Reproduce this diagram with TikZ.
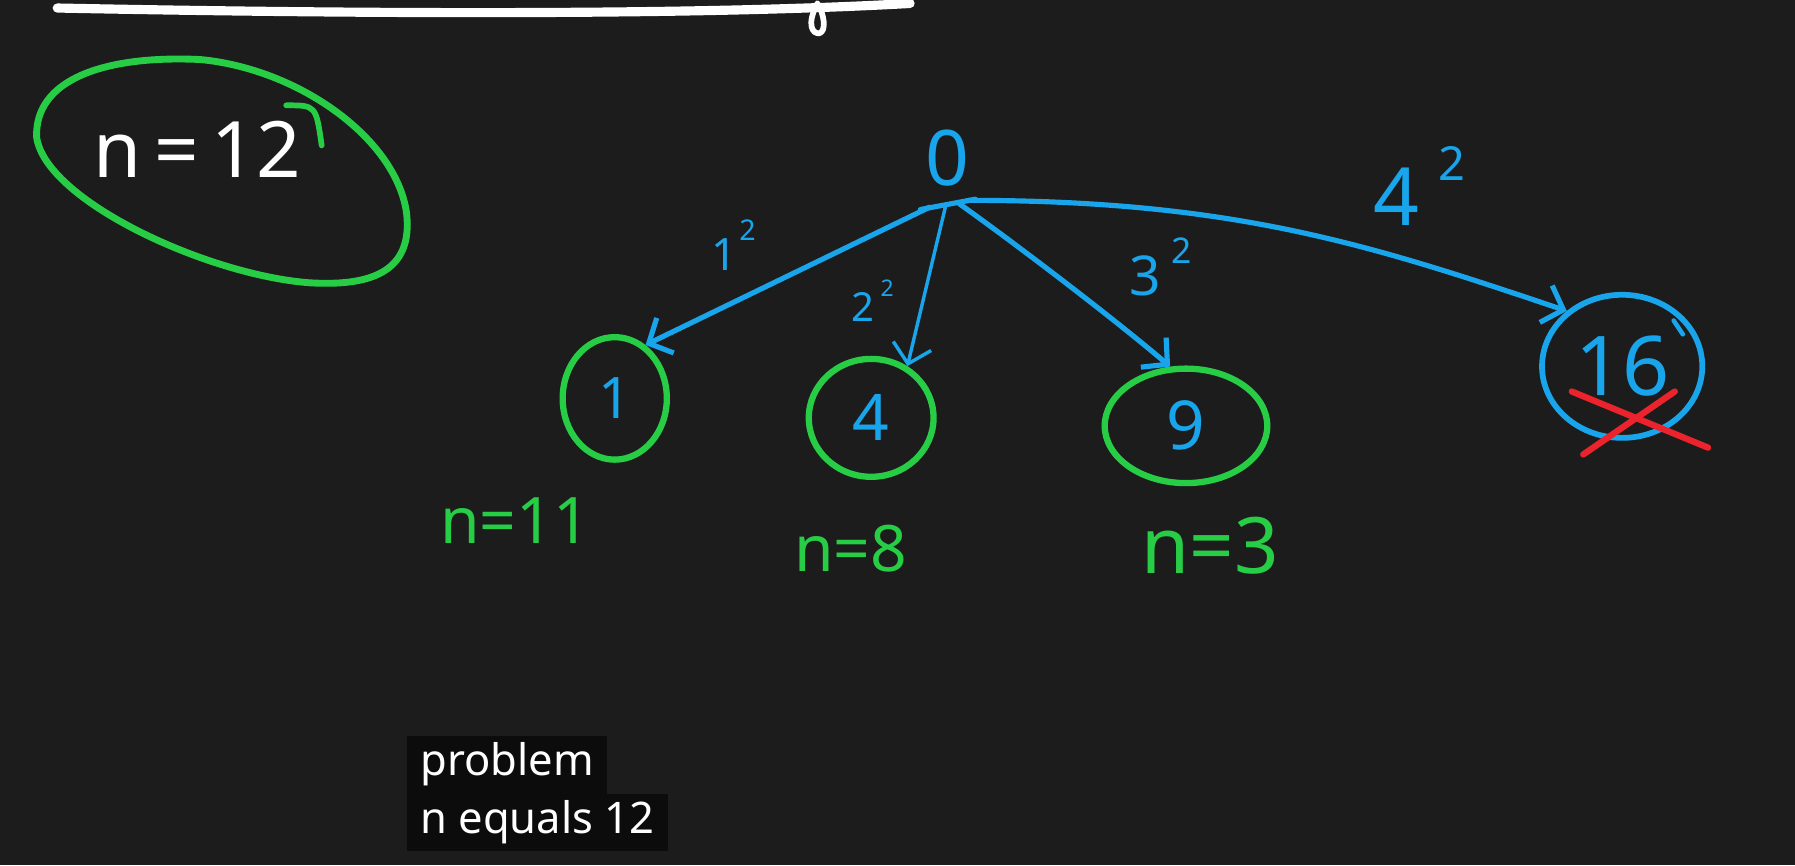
\documentclass[tikz,border=0pt]{standalone}
\usepackage{fontspec}
\setmainfont{Noto Sans}
\usetikzlibrary{shapes.geometric,arrows.meta}
\definecolor{bg}{RGB}{28,28,28}
\definecolor{capbg}{RGB}{12,12,12}
\definecolor{hgreen}{RGB}{40,205,70}
\definecolor{hblue}{RGB}{25,165,235}
\definecolor{hred}{RGB}{235,35,45}
\newcommand{\fsz}[1]{\fontsize{#1pt}{#1pt}\selectfont}
\begin{document}
\begin{tikzpicture}[x=1pt,y=-1pt,
  stroke/.style={line width=#1, line cap=round, line join=round},
  gnode/.style={ellipse, draw=hgreen, line width=5.5pt, text=hblue, inner sep=0pt},
  bnode/.style={ellipse, draw=hblue, line width=5pt, text=hblue, inner sep=0pt},
  arrowedge/.style={draw=hblue, line width=4.5pt, line cap=round, line join=round,
    -{Straight Barb[length=16pt,width=34pt]}},
  bluelab/.style={text=hblue, inner sep=0pt},
  greenlab/.style={text=hgreen, inner sep=0pt},
  capbox/.style={fill=capbg, text=white, anchor=north west, inner xsep=12pt,
    inner ysep=6.5pt, text height=28pt, text depth=9pt, font=\fsz{38}},
]
\fill[bg] (0,0) rectangle (1568,756);
\useasboundingbox (0,0) rectangle (1568,756);

% top white stroke
\coordinate (tl) at (50,7);
\coordinate (tr) at (795,3);
\draw[white, stroke=8pt] (tl) .. controls (300,12) and (600,14) .. (tr);
\draw[white, stroke=5pt] (714,3) .. controls (704,22) and (710,30) .. (716,29)
  .. controls (722,27) and (720,12) .. (714,3);

% n = 12 with hand-drawn loop
\node[text=white, inner sep=0pt, font=\fsz{68}] (n12) at (172,130) {n\,=\,12};
\draw[hgreen, stroke=6pt] (32,120) .. controls (30,70) and (90,48) .. (175,52)
  .. controls (260,60) and (345,120) .. (355,185)
  .. controls (362,240) and (320,250) .. (270,247)
  .. controls (180,240) and (40,175) .. cycle;
\draw[hgreen, stroke=5pt] (250,92) .. controls (276,92) .. (281,127);

% root
\node[bluelab, font=\fsz{67}] (root) at (828,138) {0};
\coordinate (barL) at (804,183);
\coordinate (barR) at (852,174);
\draw[hblue, stroke=4.5pt] (barL) -- (barR);
\coordinate (h1) at (812,181);
\coordinate (h2) at (826,180);
\coordinate (h3) at (838,178);
\coordinate (h4) at (846,175);

% children
\node[gnode, minimum width=91pt, minimum height=107pt, font=\fsz{50}] (n1) at (537,348) {1};
\node[gnode, minimum width=109pt, minimum height=103pt, font=\fsz{56}] (n4) at (761,365) {4};
\node[gnode, minimum width=142pt, minimum height=100pt, font=\fsz{59}] (n9) at (1036,372) {9};
\node[bnode, minimum width=140pt, minimum height=125pt, font=\fsz{72}] (n16) at (1417,320) {16};
\draw[hblue, stroke=4pt] (1462,280) -- (1470,292);

% edges
\draw[arrowedge] (h1) -- (n1.60);
\draw[arrowedge, line width=3pt] (h2) -- (n4.55);
\draw[arrowedge] (h3) .. controls (890,215) and (975,280) .. (n9.105);
\draw[arrowedge] (h4) .. controls (1080,175) and (1200,215) .. (n16.135);

% edge labels
\node[bluelab, font=\fsz{39}] (l1) at (633,222) {1};
\node[bluelab, font=\fsz{25}] (l1s) at (653,201) {2};
\node[bluelab, font=\fsz{35}] (l2) at (754,268) {2};
\node[bluelab, font=\fsz{20}] (l2s) at (775,252) {2};
\node[bluelab, font=\fsz{48}] (l3) at (1000,241) {3};
\node[bluelab, font=\fsz{31}] (l3s) at (1032,219) {2};
\node[bluelab, font=\fsz{70}] (l4) at (1220,172) {4};
\node[bluelab, font=\fsz{41}] (l4s) at (1268,143) {2};

% red cross
\coordinate (xa1) at (1383,397);
\coordinate (xa2) at (1463,342);
\coordinate (xb1) at (1373,342);
\coordinate (xb2) at (1492,391);
\draw[hred, stroke=5.5pt] (xa1) -- (xa2);
\draw[hred, stroke=5.5pt] (xb1) -- (xb2);

% remaining n labels
\node[greenlab, font=\fsz{56}] (r1) at (450,455) {n=11};
\node[greenlab, font=\fsz{56}] (r4) at (743,479) {n=8};
\node[greenlab, font=\fsz{68}] (r9) at (1057,477) {n=3};

% caption
\node[capbox] (cap1) at (355,643) {problem};
\node[capbox] (cap2) at (355,693) {n equals 12};
\end{tikzpicture}
\end{document}
